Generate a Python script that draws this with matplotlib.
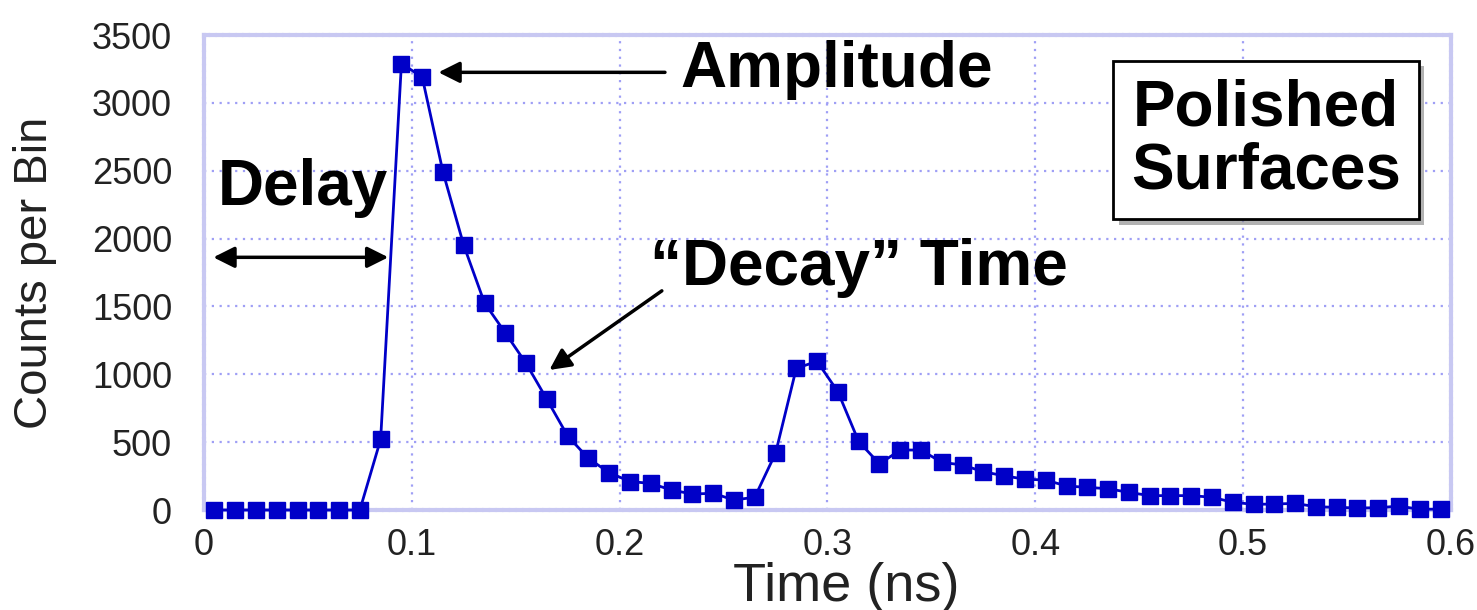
import matplotlib
matplotlib.use("Agg")
import matplotlib.pyplot as plt
import matplotlib.patheffects as pe

plt.rcParams['font.family'] = ['Liberation Sans', 'DejaVu Sans']

#bin centers (ns)
times = [0.005, 0.015, 0.025, 0.035, 0.045, 0.055, 0.065, 0.075, 0.085, 0.095,
         0.105, 0.115, 0.125, 0.135, 0.145, 0.155, 0.165, 0.175, 0.185, 0.195,
         0.205, 0.215, 0.225, 0.235, 0.245, 0.255, 0.265, 0.275, 0.285, 0.295,
         0.305, 0.315, 0.325, 0.335, 0.345, 0.355, 0.365, 0.375, 0.385, 0.395,
         0.405, 0.415, 0.425, 0.435, 0.445, 0.455, 0.465, 0.475, 0.485, 0.495,
         0.505, 0.515, 0.525, 0.535, 0.545, 0.555, 0.565, 0.575, 0.585, 0.595]

#counts
counts = [0, 0, 0, 0, 0, 0, 0, 0, 520, 3290,
          3190, 2490, 1950, 1525, 1305, 1080, 815, 545, 380, 275,
          210, 196, 147, 118, 123, 74, 94, 418, 1045, 1095,
          872, 505, 340, 442, 442, 351, 332, 282, 252, 227,
          221, 177, 167, 157, 130, 106, 106, 106, 94, 57,
          42, 44, 49, 24, 20, 15, 17, 29, 5, 7]

x_ticks = [0, 0.1, 0.2, 0.3, 0.4, 0.5, 0.6]
x_tick_labels = ["0", "0.1", "0.2", "0.3", "0.4", "0.5", "0.6"]
y_ticks = [0, 500, 1000, 1500, 2000, 2500, 3000, 3500]

fig = plt.figure(figsize=(14.77, 6.10), dpi=100)
ax = fig.add_axes([0.1381, 0.1639, 0.8443, 0.7787])

ax.plot(times, counts, color="#0000c8", linewidth=2.0, marker="s",
        markersize=12, clip_on=False, zorder=3)

ax.set_xlim(0, 0.6)
ax.set_ylim(0, 3500)
ax.set_xticks(x_ticks)
ax.set_xticklabels(x_tick_labels)
ax.set_yticks(y_ticks)
ax.tick_params(axis="both", length=0, labelsize=26, labelcolor="#222222")
ax.tick_params(axis="y", pad=23)
ax.tick_params(axis="x", pad=13)

#dotted grid and pale frame
ax.grid(True, color="#9f9ff5", linestyle=(0, (1, 2.5)), linewidth=1.6)
for s in ax.spines.values():
    s.set_color("#c8c8f2")
    s.set_linewidth(3)
    s.set_linestyle((0, (1, 0.6)))

ax.set_xlabel("Time (ns)", fontsize=39, color="#222222")
ax.set_ylabel("Counts per Bin", fontsize=34, color="#222222")
ax.xaxis.set_label_coords(0.515, -0.11)
ax.yaxis.set_label_coords(-0.118, 0.5)

#annotations
arrow = dict(arrowstyle="-|>", color="black", lw=2.5, mutation_scale=32,
             shrinkA=0, shrinkB=0)
ax.annotate("", xy=(0.1128, 3225), xytext=(0.2218, 3225), arrowprops=arrow)
ax.text(0.229, 3242, "Amplitude", fontsize=46, fontweight="bold",
        va="center", ha="left")

ax.annotate("", xy=(0.0045, 1862), xytext=(0.0887, 1862),
            arrowprops=dict(arrowstyle="<|-|>", color="black", lw=2.5,
                            mutation_scale=32, shrinkA=0, shrinkB=0))
ax.text(0.0067, 2373, "Delay", fontsize=46, fontweight="bold",
        va="center", ha="left")

ax.annotate("", xy=(0.1662, 1032), xytext=(0.2203, 1615), arrowprops=arrow)
ax.text(0.2146, 1783, "\u201cDecay\u201d Time", fontsize=46, fontweight="bold",
        va="center", ha="left")

box = ax.text(0.511, 2727, "Polished\nSurfaces", fontsize=46, fontweight="bold",
              va="center", ha="center", linespacing=1.05,
              bbox=dict(boxstyle="square,pad=0.28", facecolor="white",
                        edgecolor="black", linewidth=2))
box.get_bbox_patch().set_path_effects([
    pe.withSimplePatchShadow(offset=(4, -4), shadow_rgbFace="gray", alpha=0.6)])

plt.savefig("out.png", dpi=100)
